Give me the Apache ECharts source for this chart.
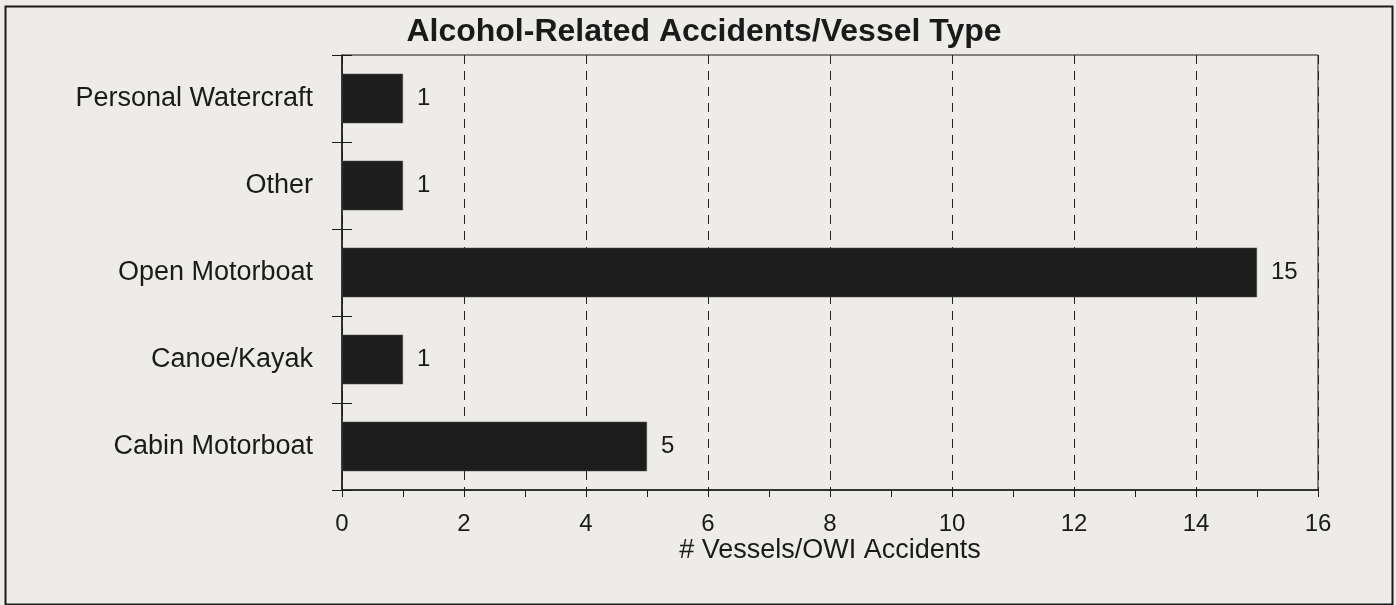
<!DOCTYPE html>
<html>
<head>
<meta charset="utf-8">
<script src="https://cdn.jsdelivr.net/npm/echarts@6/dist/echarts.min.js"></script>
<style>
html,body{margin:0;padding:0;background:#eeece9;}
#chart{width:1396px;height:605px;}
</style>
</head>
<body>
<div id="chart"></div>
<script>
const titleText = 'Alcohol-Related Accidents/Vessel Type';
const categories = ['Cabin Motorboat', 'Canoe/Kayak', 'Open Motorboat', 'Other', 'Personal Watercraft'];
const values = [5, 1, 15, 1, 1];
const xAxisName = '# Vessels/OWI Accidents';
const xMin = 0, xMax = 16, xInterval = 2;

const FONT = '"Liberation Sans", Arial, sans-serif';
const chart = echarts.init(document.getElementById('chart'), null, {renderer: 'canvas'});
chart.setOption({
  backgroundColor: '#eeece9',
  animation: false,
  title: {
    text: titleText,
    left: 699, top: 11, textAlign: 'center',
    textStyle: {fontFamily: FONT, fontWeight: 'bold', fontSize: 32, color: '#1a1a1a'}
  },
  grid: {
    left: 342, right: 78, top: 55, bottom: 115,
    show: true, borderColor: '#1a1a1a', borderWidth: 1, backgroundColor: 'transparent'
  },
  xAxis: {
    type: 'value', min: xMin, max: xMax, interval: xInterval,
    name: xAxisName, nameLocation: 'middle', nameGap: 47, nameMoveOverlap: false,
    nameTextStyle: {fontFamily: FONT, fontSize: 27, color: '#1a1a1a'},
    axisLine: {show: true, lineStyle: {color: '#1a1a1a', width: 1.5}},
    axisTick: {show: true, length: 7, lineStyle: {color: '#1a1a1a'}},
    minorTick: {show: true, splitNumber: 2, length: 7, lineStyle: {color: '#1a1a1a'}},
    axisLabel: {fontFamily: FONT, fontSize: 24, color: '#1a1a1a', margin: 22},
    splitLine: {show: true, lineStyle: {color: '#222', width: 1, type: [9, 7]}}
  },
  yAxis: [{
    type: 'category', data: categories,
    axisLine: {show: true, lineStyle: {color: '#1a1a1a', width: 1.5}},
    axisTick: {show: true, length: 10, lineStyle: {color: '#1a1a1a'}},
    axisLabel: {fontFamily: FONT, fontSize: 27, color: '#1a1a1a', margin: 29}
  }, {
    type: 'category', data: categories, position: 'left',
    axisLine: {show: false},
    axisTick: {show: true, inside: true, length: 10, lineStyle: {color: '#1a1a1a'}},
    axisLabel: {show: false}
  }],
  series: [{
    type: 'bar', data: values, yAxisIndex: 0,
    barCategoryGap: '43%',
    itemStyle: {color: '#1d1d1d', borderColor: '#555', borderWidth: 0.5},
    label: {show: true, position: 'right', distance: 14, fontFamily: FONT, fontSize: 24, color: '#1a1a1a'}
  }],
  graphic: [{
    type: 'rect', left: 3, top: 4, z: 100,
    shape: {x: 0, y: 0, width: 1387, height: 598},
    style: {fill: 'none', stroke: '#1a1a1a', lineWidth: 2}
  }]
});
</script>
</body>
</html>
